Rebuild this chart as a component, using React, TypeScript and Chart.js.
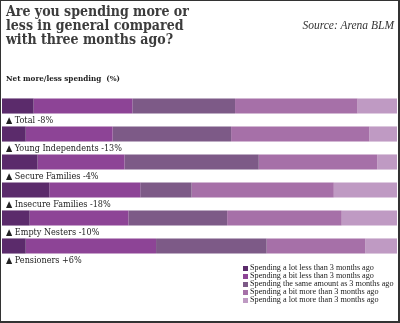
import React, { useEffect, useRef } from "react";
import { Chart, registerables } from "chart.js";

Chart.register(...registerables);

const categories = [
  "Total -8%",
  "Young Independents -13%",
  "Secure Families -4%",
  "Insecure Families -18%",
  "Empty Nesters -10%",
  "Pensioners +6%",
];
const seriesNames = [
  "Spending a lot less than 3 months ago",
  "Spending a bit less than 3 months ago",
  "Spending the same amount as 3 months ago",
  "Spending a bit more than 3 months ago",
  "Spending a lot more than 3 months ago",
];
const lotLess = [8, 6, 9, 12, 7, 6];
const bitLess = [25, 22, 22, 23, 25, 33];
const same = [26, 30, 34, 13, 25, 28];
const bitMore = [31, 35, 30, 36, 29, 25];
const lotMore = [10, 7, 5, 16, 14, 8];
const colors = ["#5b2b6b", "#8d4496", "#7d5a87", "#a670a8", "#bf9ac3"];

const seriesValues = [lotLess, bitLess, same, bitMore, lotMore];

const labelPlugin = {
  id: "underLabels",
  afterDatasetsDraw(chart: any) {
    const ctx = chart.ctx;
    const meta = chart.getDatasetMeta(0);
    ctx.save();
    ctx.font = "9px 'DejaVu Serif Condensed', 'DejaVu Serif'";
    ctx.fillStyle = "#222";
    ctx.textBaseline = "middle";
    ctx.textAlign = "left";
    meta.data.forEach((bar: any, i: number) => {
      const y = bar.y + bar.height / 2 + 7;
      ctx.fillText("\u25B2 " + categories[i], 6, y);
    });
    ctx.restore();
  },
};

export default function App() {
  const ref = useRef<HTMLCanvasElement>(null);
  useEffect(() => {
    document.body.style.margin = "0";
    const chart = new Chart(ref.current!, {
      type: "bar",
      data: {
        labels: categories,
        datasets: seriesValues.map((vals, i) => ({
          label: seriesNames[i],
          data: vals,
          backgroundColor: colors[i],
          borderWidth: 0,
          barPercentage: 0.54,
          categoryPercentage: 1,
        })),
      },
      options: {
        indexAxis: "y",
        animation: false,
        responsive: false,
        maintainAspectRatio: false,
        layout: { padding: { top: 92, bottom: 63, left: 2, right: 3 } },
        scales: {
          x: { stacked: true, min: 0, max: 100, display: false },
          y: { stacked: true, display: false },
        },
        plugins: {
          legend: { display: false },
          tooltip: { enabled: false },
        },
      },
      plugins: [labelPlugin],
    });
    return () => chart.destroy();
  }, []);

  return (
    <div
      style={{
        position: "fixed",
        left: 0,
        top: 0,
        width: 400,
        height: 323,
        boxSizing: "border-box",
        border: "1px solid #333",
        borderRightWidth: 2,
        borderBottomWidth: 2,
        background: "#fff",
        overflow: "hidden",
      }}
    >
      <canvas
        ref={ref}
        width={400}
        height={323}
        style={{ position: "absolute", left: -1, top: -1, width: 400, height: 323 }}
      />
      <div
        style={{
          position: "absolute",
          left: 5,
          top: 3,
          fontFamily: "'DejaVu Serif Condensed', 'DejaVu Serif'",
          fontWeight: "bold",
          fontSize: 14,
          lineHeight: "14px",
          color: "#3c3c3c",
          whiteSpace: "nowrap",
        }}
      >
        Are you spending more or
        <br />
        less in general compared
        <br />
        with three months ago?
      </div>
      <div
        style={{
          position: "absolute",
          right: 4,
          top: 18,
          fontFamily: "'Liberation Serif'",
          fontStyle: "italic",
          fontSize: 11.5,
          color: "#333",
          whiteSpace: "nowrap",
        }}
      >
        Source: Arena BLM
      </div>
      <div
        style={{
          position: "absolute",
          left: 5,
          top: 72,
          fontFamily: "'DejaVu Serif Condensed', 'DejaVu Serif'",
          fontWeight: "bold",
          fontSize: 8,
          color: "#222",
          whiteSpace: "nowrap",
        }}
      >
        Net more/less spending&nbsp;&nbsp;(%)
      </div>
      <div
        style={{
          position: "absolute",
          left: 242,
          top: 263,
          fontFamily: "'Liberation Serif'",
          fontSize: 8.2,
          lineHeight: "8px",
          color: "#222",
          whiteSpace: "nowrap",
        }}
      >
        {seriesNames.map((n, i) => (
          <div key={n} style={{ display: "flex", alignItems: "center", height: 8 }}>
            <span
              style={{
                display: "inline-block",
                width: 5,
                height: 5,
                background: colors[i],
                marginRight: 2,
              }}
            />
            {n}
          </div>
        ))}
      </div>
    </div>
  );
}
